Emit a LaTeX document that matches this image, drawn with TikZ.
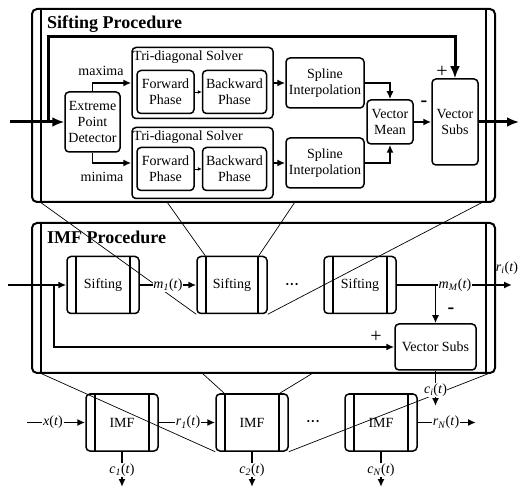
\documentclass[tikz,border=0pt]{standalone}
\usepackage{fontspec}
\setmainfont{Liberation Serif}
\usetikzlibrary{arrows.meta,calc}

\newcommand{\tsig}[2]{\textit{#1}\textsubscript{\textit{#2}}(\textit{t})}

\begin{document}
\begin{tikzpicture}[
      x=1pt, y=-1pt,
      font=\fontsize{14}{16}\selectfont,
      box/.style={
        draw,
        rounded corners=4pt,
        line width=1.5pt,
        align=center,
        inner sep=1pt
      },
      proc/.style={
        box,
        path picture={
          \draw[line width=1.5pt]
            ([xshift=9pt]path picture bounding box.north west) -- ([xshift=9pt]path picture bounding box.south west)
            ([xshift=-9pt]path picture bounding box.north east) -- ([xshift=-9pt]path picture bounding box.south east);
        }
      },
      frame/.style={
        proc,
        line width=2pt,
        rounded corners=5pt
      },
      title/.style={
        anchor=west,
        inner sep=0pt,
        font=\fontsize{18}{20}\selectfont\bfseries
      },
      dots/.style={inner sep=0pt, font=\fontsize{9}{9}\selectfont},
      sig/.style={fill=white, inner sep=0.5pt},
      sign/.style={inner sep=0pt, font=\fontsize{20}{20}\selectfont},
      wire/.style={line width=1.6pt},
      arr/.style={-{Latex[length=8pt,width=7pt]}, line width=1.6pt},
      thin/.style={-{Latex[length=4pt,width=4pt]}, line width=0.8pt},
      bigarr/.style={-{Latex[length=12pt,width=10pt]}, line width=3pt},
      zoomln/.style={line width=0.7pt}
    ]
    \useasboundingbox (0,0) rectangle (520,489);

    \node[frame, minimum width=463pt, minimum height=193pt] (siftproc) at (263.5,105.5) {};
    \node[title] (sifttitle) at (47,24) {Sifting Procedure};

    \node[box, minimum width=55pt, minimum height=60pt] (epd) at (92.5,122)
    {Extreme\\Point\\Detector};

    \node[box, minimum width=141pt, minimum height=71pt] (tri1) at (202.5,83) {};
    \node[anchor=west, inner sep=0pt] (tri1title) at (133,57) {Tri-diagonal Solver};
    \node[box, minimum width=57pt, minimum height=43pt] (fwd1) at (165.5,92) {Forward\\Phase};
    \node[box, minimum width=64pt, minimum height=43pt] (bwd1) at (234.5,92) {Backward\\Phase};

    \node[box, minimum width=141pt, minimum height=71pt] (tri2) at (202.5,163) {};
    \node[anchor=west, inner sep=0pt] (tri2title) at (133,137) {Tri-diagonal Solver};
    \node[box, minimum width=57pt, minimum height=43pt] (fwd2) at (165.5,169) {Forward\\Phase};
    \node[box, minimum width=64pt, minimum height=43pt] (bwd2) at (234.5,169) {Backward\\Phase};

    \node[box, minimum width=78pt, minimum height=50pt] (spline1) at (325,83) {Spline\\Interpolation};
    \node[box, minimum width=78pt, minimum height=50pt] (spline2) at (325,163) {Spline\\Interpolation};

    \node[box, minimum width=46pt, minimum height=44pt] (vmean) at (390,122) {Vector\\Mean};
    \node[box, minimum width=46pt, minimum height=86pt] (vsubs1) at (455,122) {Vector\\Subs};

    \node (maxlbl) at (101,71) {maxima};
    \node (minlbl) at (102,177) {minima};
    \node[sign] (minus1) at (424,104) {\textbf{-}};
    \node[sign] (plus1) at (442,72) {+};

    \node[frame, minimum width=463pt, minimum height=150pt] (imfproc) at (263.5,298) {};
    \node[title] (imftitle) at (47,237) {IMF Procedure};

    \node[proc, minimum width=72pt, minimum height=57pt] (sift1) at (103,285) {Sifting};
    \node[proc, minimum width=70pt, minimum height=57pt] (sift2) at (232,285) {Sifting};
    \node[proc, minimum width=72pt, minimum height=57pt] (sift3) at (360,285) {Sifting};
    \node[dots] (dots1) at (292,285) {•\hspace{1.5pt}•\hspace{1.5pt}•};

    \node[box, minimum width=81pt, minimum height=46pt] (vsubs2) at (435.5,347) {Vector Subs};
    \node[sign] (minus2) at (451,311) {\textbf{-}};
    \node[sign] (plus2) at (376,337) {+};

    \node[proc, minimum width=72pt, minimum height=57pt] (imf1) at (122,422.5) {IMF};
    \node[proc, minimum width=72pt, minimum height=57pt] (imf2) at (252,422.5) {IMF};
    \node[proc, minimum width=72pt, minimum height=57pt] (imf3) at (381,422.5) {IMF};
    \node[dots] (dots2) at (313,422.5) {•\hspace{1.5pt}•\hspace{1.5pt}•};

    \coordinate (sz1) at (40,202);
    \coordinate (sz2) at (167,202);
    \coordinate (sz3) at (295,202);
    \coordinate (sz4) at (483,202);
    \draw[zoomln] (sz1) -- (sift2.south west);
    \draw[zoomln] (sz2) -- ($(sift2.north west)+(9,0)$);
    \draw[zoomln] (sz3) -- ($(sift2.north east)+(-9,0)$);
    \draw[zoomln] (sz4) -- (sift2.south east);

    \coordinate (iz1) at (40,373);
    \coordinate (iz2) at (202,373);
    \coordinate (iz3) at (313,373);
    \coordinate (iz4) at (490,373);
    \draw[zoomln] (iz1) -- (imf2.south west);
    \draw[zoomln] (iz2) -- ($(imf2.north west)+(9,0)$);
    \draw[zoomln] (iz3) -- ($(imf2.north east)+(-9,0)$);
    \draw[zoomln] (iz4) -- (imf2.south east);

    \coordinate (in1) at (10,122);
    \coordinate (fb1) at (48,122);
    \coordinate (fb1top) at (48,37);
    \coordinate (out1) at (519,122);
    \draw[bigarr] (in1) -- (epd.west);
    \draw[bigarr] (fb1) -- (fb1top) -| (vsubs1.north);
    \draw[bigarr] (vsubs1.east) -- (out1);

    \draw[arr] (epd.north) |- (tri1.west);
    \draw[arr] (epd.south) |- (tri2.west);
    \draw[thin] (fwd1) -- (bwd1);
    \draw[thin] (fwd2) -- (bwd2);
    \draw[arr] (tri1.east) -- (spline1.west);
    \draw[arr] (tri2.east) -- (spline2.west);
    \draw[arr] (spline1.east) -| (vmean.north);
    \draw[arr] (spline2.east) -| (vmean.south);
    \draw[arr] (vmean) -- (vsubs1);

    \node[sig] (m1) at (168,285) {\tsig{m}{1}};
    \node[sig] (mM) at (455,285) {\tsig{m}{M}};
    \node (ri) at (507,268) {\tsig{r}{i}};
    \node[sig] (ci) at (435.5,390) {\tsig{c}{i}};

    \coordinate (in2) at (8,285);
    \coordinate (fb2) at (54,285);
    \coordinate (tap) at (435.5,285);
    \coordinate (out2) at (512,285);
    \coordinate (ciend) at (435.5,406);
    \draw[arr] (in2) -- (sift1.west);
    \draw[arr] (fb2) |- (vsubs2.west);
    \draw[wire] (sift1.east) -- (m1.west);
    \draw[arr] (m1.east) -- (sift2.west);
    \draw[wire] (sift3.east) -- (mM.west);
    \draw[arr] (mM.east) -- (out2);
    \draw[arr] (tap) -- (vsubs2.north);
    \draw[wire] (vsubs2.south) -- (ci.north);
    \draw[arr] (ci.south) -- (ciend);

    \node[sig] (xt) at (53,422.5) {\textit{x}(\textit{t})};
    \node[sig] (r1) at (188,422.5) {\tsig{r}{1}};
    \node[sig] (rN) at (446,422.5) {\tsig{r}{N}};
    \node[sig] (c1) at (122,470) {\tsig{c}{1}};
    \node[sig] (c2) at (252,470) {\tsig{c}{2}};
    \node[sig] (cN) at (381,470) {\tsig{c}{N}};

    \coordinate (xin) at (27,422.5);
    \coordinate (rNend) at (476,422.5);
    \coordinate (c1end) at (122,487);
    \coordinate (c2end) at (252,487);
    \coordinate (cNend) at (381,487);
    \draw[wire] (xin) -- (xt.west);
    \draw[arr] (xt.east) -- (imf1.west);
    \draw[wire] (imf1.east) -- (r1.west);
    \draw[arr] (r1.east) -- (imf2.west);
    \draw[wire] (imf3.east) -- (rN.west);
    \draw[arr] (rN.east) -- (rNend);
    \draw[wire] (imf1.south) -- (c1.north);
    \draw[arr] (c1.south) -- (c1end);
    \draw[wire] (imf2.south) -- (c2.north);
    \draw[arr] (c2.south) -- (c2end);
    \draw[wire] (imf3.south) -- (cN.north);
    \draw[arr] (cN.south) -- (cNend);
    \end{tikzpicture}
\end{document}
